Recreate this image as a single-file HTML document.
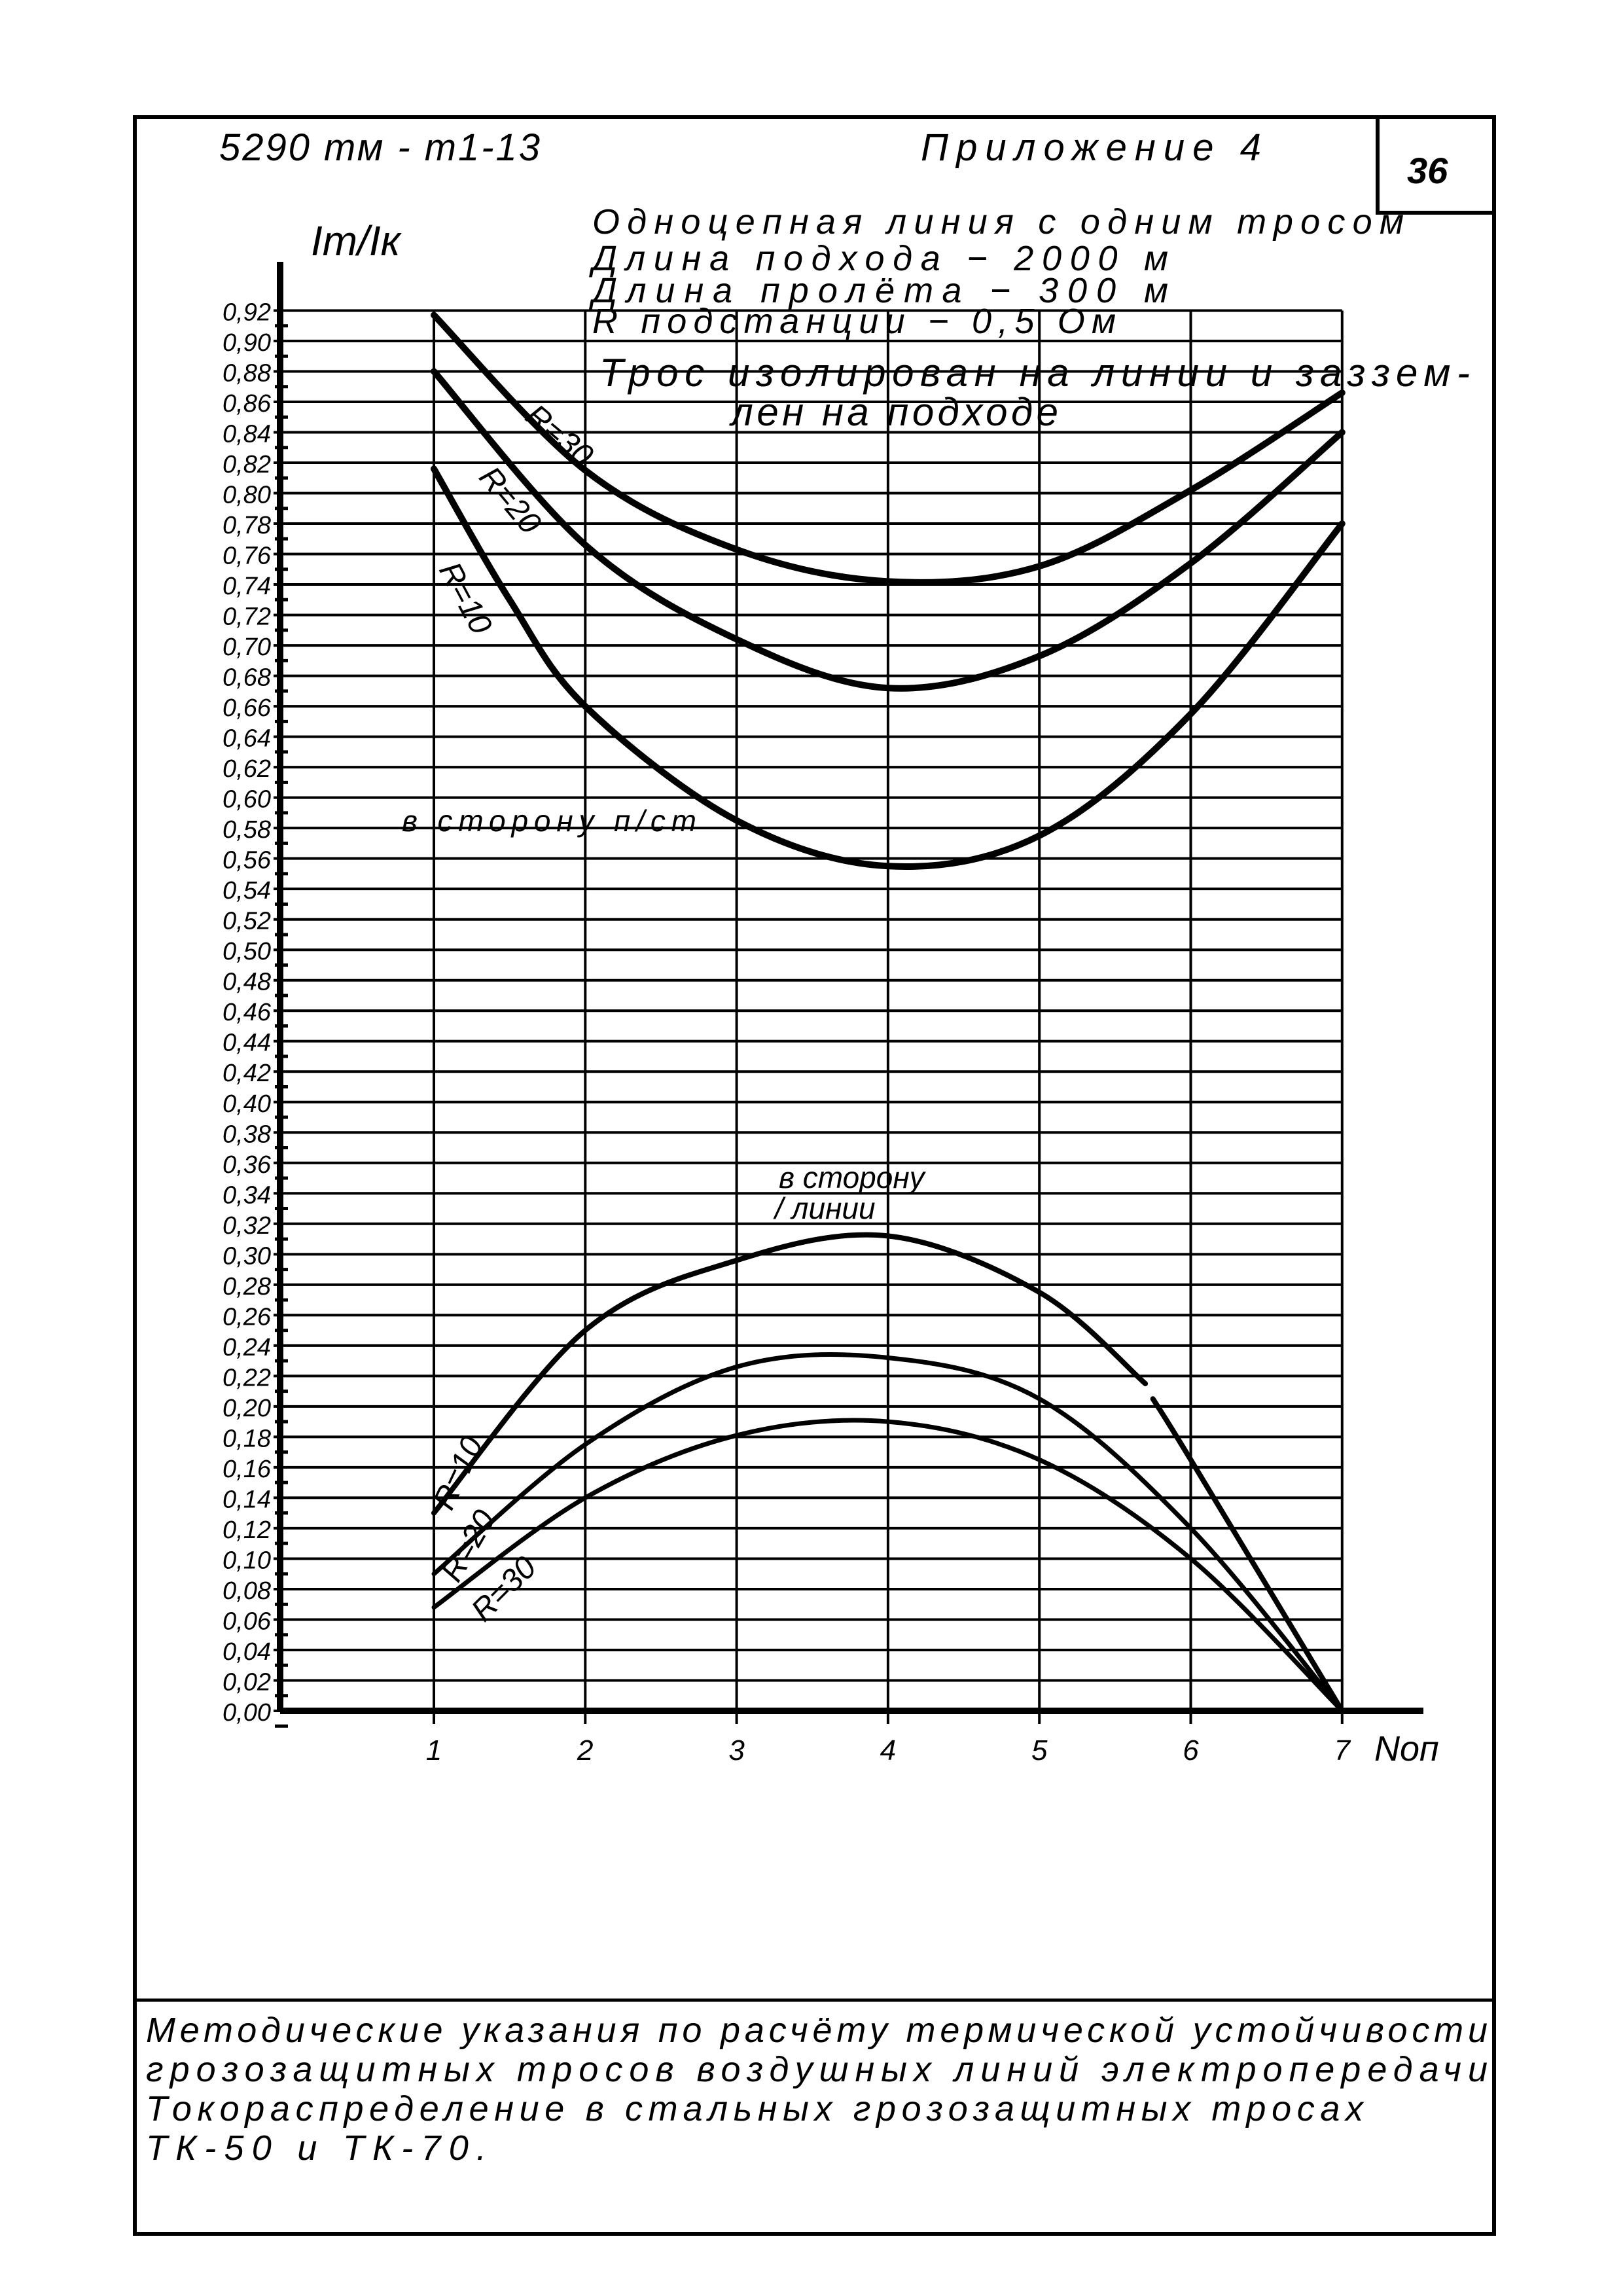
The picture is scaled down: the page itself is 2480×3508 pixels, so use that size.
<!DOCTYPE html>
<html><head><meta charset="utf-8"><style>
html,body{margin:0;padding:0;background:#fff}
svg{display:block}
text{font-family:"Liberation Sans","DejaVu Sans",sans-serif;font-style:italic;fill:#000}
</style></head><body>
<svg id="chart" width="2480" height="3508" viewBox="0 0 2480 3508" xmlns="http://www.w3.org/2000/svg">
<rect x="0" y="0" width="2480" height="3508" fill="#fff"/>
<rect x="206" y="179" width="2077" height="3234" fill="none" stroke="#000" stroke-width="6"/>
<rect x="2105" y="179" width="178" height="146" fill="none" stroke="#000" stroke-width="6"/>
<text x="2150" y="280" font-size="56" font-weight="bold">36</text>
<line x1="206" y1="3056" x2="2283" y2="3056" stroke="#000" stroke-width="5"/>
<text x="335" y="245" font-size="58" textLength="490">5290 тм - т1-13</text>
<text x="1407" y="245" font-size="58" textLength="520">Приложение 4</text>
<g font-size="54">
<text x="905" y="357" textLength="1240">Одноцепная линия   с одним   тросом</text>
<text x="905" y="413" textLength="880">Длина  подхода   −   2000 м</text>
<text x="905" y="462" textLength="880">Длина  пролёта   −   300 м</text>
<text x="905" y="509" textLength="800">R подстанции   −   0,5 Ом</text>
<text x="916" y="590" font-size="60" textLength="1330">Трос изолирован на  линии и заззем-</text>
<text x="1117" y="650" font-size="60" textLength="500">лен на подходе</text>
</g>
<text x="475" y="390" font-size="64">Iт/Iк</text>
<text x="2100" y="2690" font-size="54">Nоп</text>
<g id="grid"></g>
<g id="ticks"></g>
<g id="curves"></g>
<text x="614" y="1270" font-size="46" textLength="450">в  сторону  п/ст</text>
<text x="1190" y="1815" font-size="46">в сторону</text>
<text x="1184" y="1862" font-size="46">/ линии</text>
<text font-size="48" transform="translate(800,640) rotate(40)">R=30</text>
<text font-size="48" transform="translate(730,730) rotate(50)">R=20</text>
<text font-size="48" transform="translate(670,870) rotate(62)">R=10</text>
<text font-size="48" transform="translate(690,2310) rotate(-65)">R=10</text>
<text font-size="48" transform="translate(700,2420) rotate(-60)">R=20</text>
<text font-size="48" transform="translate(740,2480) rotate(-45)">R=30</text>
<g font-size="54">
<text x="223" y="3120" textLength="2050">Методические  указания  по расчёту  термической  устойчивости</text>
<text x="223" y="3180" textLength="2050">грозозащитных   тросов  воздушных  линий    электропередачи</text>
<text x="223" y="3240" textLength="1860">Токораспределение  в стальных  грозозащитных    тросах</text>
<text x="223" y="3300" textLength="520">ТК-50    и  ТК-70.</text>
</g>
</svg>
<script>
const xCats=[1,2,3,4,5,6,7];
const yTicks=[0,0.02,0.04,0.06,0.08,0.10,0.12,0.14,0.16,0.18,0.20,0.22,0.24,0.26,0.28,0.30,0.32,0.34,0.36,0.38,0.40,0.42,0.44,0.46,0.48,0.50,0.52,0.54,0.56,0.58,0.60,0.62,0.64,0.66,0.68,0.70,0.72,0.74,0.76,0.78,0.80,0.82,0.84,0.86,0.88,0.90,0.92];
const upR30X=[1,2,3,4,5,6,7];
const upR30Y=[0.917,0.815,0.763,0.742,0.752,0.802,0.866];
const upR20X=[1,2,3,4,5,6,7];
const upR20Y=[0.880,0.766,0.704,0.672,0.693,0.754,0.840];
const upR10X=[1,1.5,2,3,4,5,6,7];
const upR10Y=[0.816,0.730,0.660,0.585,0.555,0.575,0.655,0.780];
const loR10X=[1,2,3,4,5,5.7];
const loR10Y=[0.130,0.250,0.296,0.312,0.275,0.215];
const loR10bX=[5.75,6,7];
const loR10bY=[0.205,0.165,0.0];
const loR20X=[1,2,3,4,5,6,7];
const loR20Y=[0.090,0.175,0.226,0.232,0.205,0.120,0.0];
const loR30X=[1,2,3,4,5,6,7];
const loR30Y=[0.068,0.140,0.181,0.190,0.165,0.100,0.0];

const NS='http://www.w3.org/2000/svg';
const X0=663,XU=231.3,Y0=2614,YU=2325.6;
function sx(v){return X0+(v-1)*XU;}
function sy(v){return Y0-v*YU;}
function mk(t,a,p){const e=document.createElementNS(NS,t);for(const k in a)e.setAttribute(k,a[k]);p.appendChild(e);return e;}
const grid=document.getElementById('grid'),ticks=document.getElementById('ticks'),curves=document.getElementById('curves');
const axX=428, topY=sy(0.92);
yTicks.forEach(v=>{
  const l=mk('line',{x1:axX-10,y1:sy(v),x2:sx(7),y2:sy(v),stroke:'#000','stroke-width':4},grid);
  
  
  const m=mk('line',{x1:axX-8,y1:sy(v)+YU*0.01,x2:axX+12,y2:sy(v)+YU*0.01,stroke:'#000','stroke-width':5},ticks);
  
  
  const t=mk('text',{x:axX-14,y:sy(v)+15,'font-size':38,'text-anchor':'end'},ticks);
  t.textContent=v.toFixed(2).replace('.',',');
  
  
});
xCats.forEach(c=>{
  const l=mk('line',{x1:sx(c),y1:topY,x2:sx(c),y2:Y0+20,stroke:'#000','stroke-width':4},grid);
  
  
  const t=mk('text',{x:sx(c),y:Y0+75,'font-size':44,'text-anchor':'middle'},ticks);
  t.textContent=c;
  
  
});
const ya=mk('line',{x1:axX,y1:400,x2:axX,y2:Y0,stroke:'#000','stroke-width':10},grid);


const xa=mk('line',{x1:axX,y1:Y0,x2:2175,y2:Y0,stroke:'#000','stroke-width':10},grid);


function path(xs,ys){
  const p=xs.map((x,i)=>[sx(x),sy(ys[i])]);
  let d='M'+p[0][0]+','+p[0][1];
  for(let i=0;i<p.length-1;i++){
    const a=p[i-1]||p[i],b=p[i],c=p[i+1],e=p[i+2]||c;
    d+=' C'+(b[0]+(c[0]-a[0])/6)+','+(b[1]+(c[1]-a[1])/6)+' '+(c[0]-(e[0]-b[0])/6)+','+(c[1]-(e[1]-b[1])/6)+' '+c[0]+','+c[1];
  }
  return d;
}
function draw(xs,ys,w,name){
  const e=mk('path',{d:path(xs,ys),fill:'none',stroke:'#000','stroke-width':w,'stroke-linecap':'round'},curves);
  
  
}
draw(upR30X,upR30Y,10,'curve-upper-r30');
draw(upR20X,upR20Y,10,'curve-upper-r20');
draw(upR10X,upR10Y,10,'curve-upper-r10');
draw(loR10X,loR10Y,8,'curve-lower-r10');
draw(loR10bX,loR10bY,8,'curve-lower-r10-end');
draw(loR20X,loR20Y,7,'curve-lower-r20');
draw(loR30X,loR30Y,7,'curve-lower-r30');
</script>
</body></html>
